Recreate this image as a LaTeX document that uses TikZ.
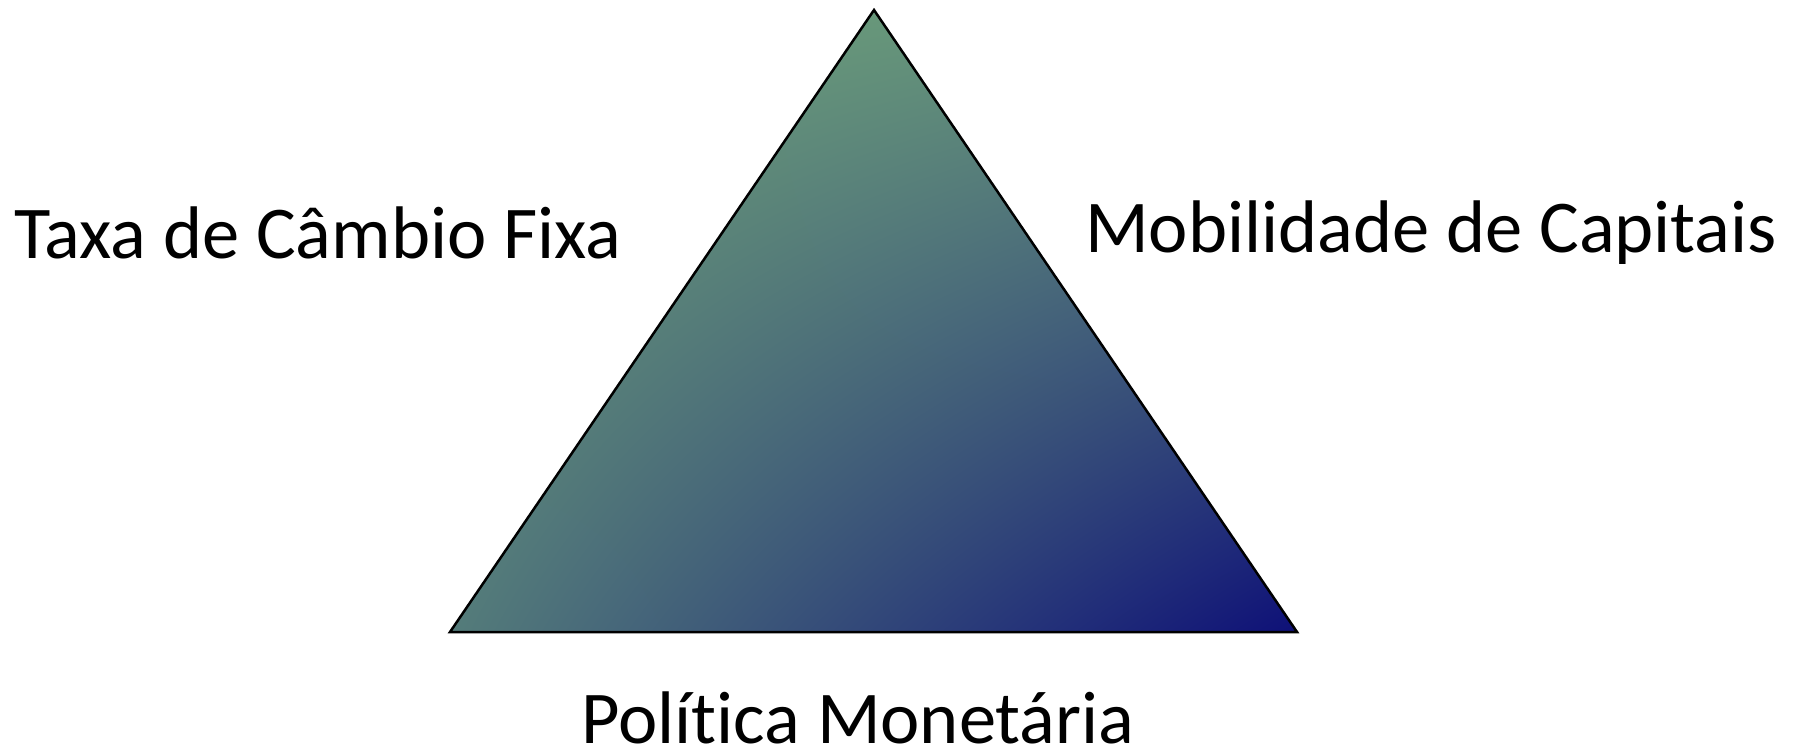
\documentclass[tikz,border=0pt]{standalone}
\usepackage{fontspec}
\setmainfont{Carlito}[Ligatures=NoCommon]
\usetikzlibrary{shadings}

\definecolor{verdetopo}{RGB}{110,160,120}
\definecolor{verdedir}{RGB}{98,144,124}
\definecolor{tealesq}{RGB}{84,124,122}
\definecolor{marinho}{RGB}{14,16,120}

\tikzset{
    rotulo/.style={anchor=base west, inner sep=0pt, font=\fontsize{74.5}{90}\selectfont},
}

\begin{document}
\begin{tikzpicture}[x=1pt, y=-1pt]
            \useasboundingbox (0,0) rectangle (1798,750);

            \coordinate (topo) at (874,10);
            \coordinate (esq) at (450,632);
            \coordinate (dir) at (1297,632);

            \shade[upper left=verdetopo, upper right=verdedir,
                   lower left=tealesq, lower right=marinho]
                (topo) -- (esq) -- (dir) -- cycle;
            \draw[black, line width=2.5pt, line join=miter] (topo) -- (esq) -- (dir) -- cycle;

            \node[rotulo] (cambio) at (14,258) {Taxa de Câmbio Fixa};
            \node[rotulo] (capitais) at (1085,252) {Mobilidade de Capitais};
            \node[rotulo, text depth=0pt] (monetaria) at (581,743) {Política Monetária};
        \end{tikzpicture}
\end{document}
